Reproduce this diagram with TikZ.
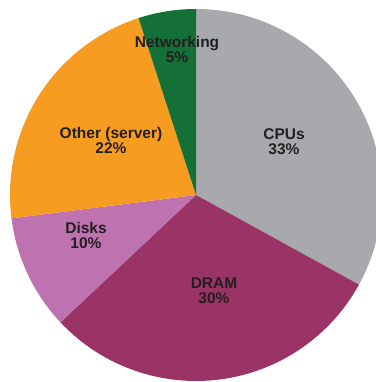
\documentclass[tikz,border=0pt]{standalone}
\usepackage{fontspec}
\setmainfont{Liberation Sans}
\definecolor{cpucol}{HTML}{A7A9AC}
\definecolor{dramcol}{HTML}{9A3466}
\definecolor{diskcol}{HTML}{BE73B0}
\definecolor{othercol}{HTML}{F69C20}
\definecolor{netcol}{HTML}{157038}
\definecolor{labelcol}{HTML}{231F20}
\tikzset{
  lbl/.style={align=center, inner sep=0pt, text=labelcol,
    font=\fontsize{15.5}{15}\selectfont\bfseries},
}
\begin{document}
\begin{tikzpicture}[x=1pt,y=1pt]
\useasboundingbox (0,0) rectangle (375,382);
\coordinate (O) at (196,187);
\def\R{186}
\fill[cpucol]   (O) -- ++(90:\R)     arc[start angle=90,     end angle=-28.8,  radius=\R] -- cycle;
\fill[dramcol]  (O) -- ++(-28.8:\R)  arc[start angle=-28.8,  end angle=-136.8, radius=\R] -- cycle;
\fill[diskcol]  (O) -- ++(-136.8:\R) arc[start angle=-136.8, end angle=-172.8, radius=\R] -- cycle;
\fill[othercol] (O) -- ++(-172.8:\R) arc[start angle=-172.8, end angle=-252,   radius=\R] -- cycle;
\fill[netcol]   (O) -- ++(-252:\R)   arc[start angle=-252,   end angle=-270,   radius=\R] -- cycle;
\node[lbl] (net)   at (177,332.5) {Networking\\5\%};
\node[lbl] (other) at (111,242)   {Other (server)\\22\%};
\node[lbl] (cpu)   at (284,240.5) {CPUs\\33\%};
\node[lbl] (disk)  at (86,147)    {Disks\\10\%};
\node[lbl] (dram)  at (214,91.5)  {DRAM\\30\%};
\end{tikzpicture}
\end{document}
